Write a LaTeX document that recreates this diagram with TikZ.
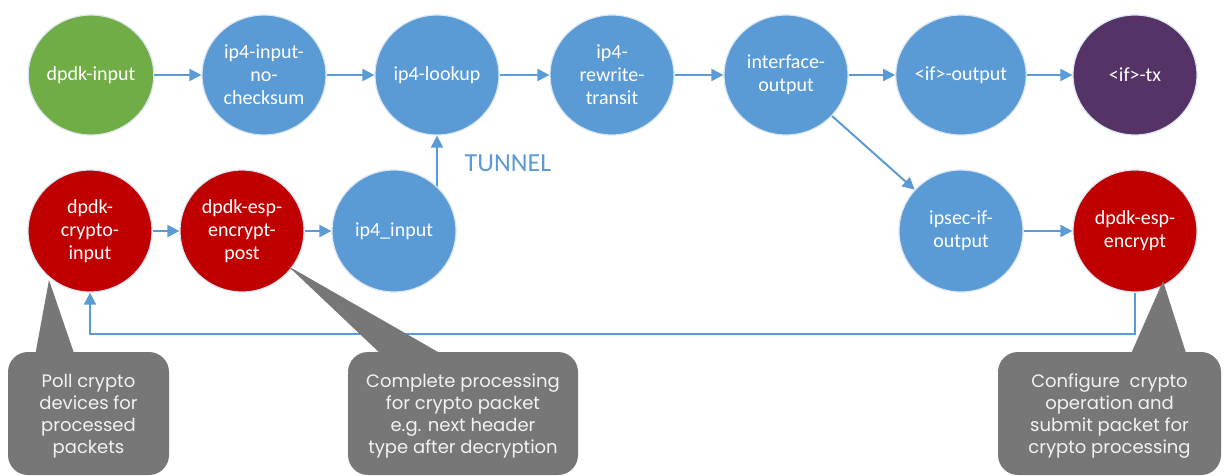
\documentclass[tikz,border=0pt]{standalone}
\usepackage{fontspec}
\setmainfont{Carlito}
\newfontfamily\notefont{Poppins}
\usetikzlibrary{shapes.geometric,arrows.meta,backgrounds}

\definecolor{nodeblue}{HTML}{5B9BD5}
\definecolor{nodegreen}{HTML}{70AD47}
\definecolor{nodered}{HTML}{C00000}
\definecolor{nodepurple}{HTML}{553366}
\definecolor{halo}{HTML}{DCE6F2}
\definecolor{linkblue}{HTML}{5B9BD5}
\definecolor{notegray}{HTML}{777777}
\definecolor{notetext}{HTML}{F2F2F2}

\tikzset{
  graphnode/.style={ellipse, fill=#1, draw=halo, line width=1.2pt,
    minimum width=124pt, minimum height=120pt, inner sep=0pt,
    text=white, align=center, font=\fontsize{20}{23}\selectfont},
  link/.style={draw=linkblue, line width=2pt,
    -{Triangle[length=12pt,width=12pt]}},
  notebox/.style={fill=notegray, rounded corners=20pt, inner sep=0pt},
  notelabel/.style={text=notetext, align=center,
    font=\notefont\fontsize{18}{22}\selectfont},
}

\begin{document}
\begin{tikzpicture}[x=1pt,y=-1pt]
  \useasboundingbox (0,0) rectangle (1225,476);

  % main forwarding path
  \node[graphnode=nodegreen]  (dpdkin)   at (91,75)   {dpdk-input};
  \node[graphnode=nodeblue]   (ipin)     at (264,75)  {ip4-input-\\no-\\checksum};
  \node[graphnode=nodeblue]   (lookup)   at (437,75)  {ip4-lookup};
  \node[graphnode=nodeblue]   (rewrite)  at (612,75)  {ip4-\\rewrite-\\transit};
  \node[graphnode=nodeblue]   (ifout)    at (786,75)  {interface-\\output};
  \node[graphnode=nodeblue]   (ifoutput) at (961,75)  {<if>-output};
  \node[graphnode=nodepurple] (iftx)     at (1135,75) {<if>-tx};

  % crypto path
  \node[graphnode=nodered, minimum height=122pt] (cryptoin) at (90,231)   {dpdk-\\crypto-\\input};
  \node[graphnode=nodered, minimum height=122pt] (encpost)  at (242,231)  {dpdk-esp-\\encrypt-\\post};
  \node[graphnode=nodeblue, minimum height=122pt] (ip4in)   at (394,231)  {ip4\_input};
  \node[graphnode=nodeblue, minimum height=122pt] (ipsecout) at (961,231) {ipsec-if-\\output};
  \node[graphnode=nodered, minimum height=122pt] (espenc)   at (1135,231) {dpdk-esp-\\encrypt};

  \node[text=linkblue, font=\fontsize{26}{26}\selectfont] (tunnel) at (508,163) {TUNNEL};

  % connectors
  \draw[link] (dpdkin) -- (ipin);
  \draw[link] (ipin) -- (lookup);
  \draw[link] (lookup) -- (rewrite);
  \draw[link] (rewrite) -- (ifout);
  \draw[link] (ifout) -- (ifoutput);
  \draw[link] (ifoutput) -- (iftx);
  \draw[link] (ifout) -- (ipsecout);
  \draw[link] (ipsecout) -- (espenc);
  \draw[link] (cryptoin) -- (encpost);
  \draw[link] (encpost) -- (ip4in);

  \coordinate (loopy) at (0,334);
  \begin{scope}[on background layer]
    \draw[link] (ip4in.center -| lookup.south) -- (lookup.south);
    \draw[link, line width=1.6pt] (espenc.south) -- (espenc.south |- loopy)
      -| (cryptoin.south);
  \end{scope}

  % callouts
  \node[notebox, minimum width=161pt, minimum height=123pt] (note1) at (88.5,413.5) {};
  \fill[notegray] (35,356) -- (49,280) -- (75,356) -- cycle;
  \node[notelabel] at (note1.center |- 0,416) {Poll crypto\\devices for\\processed\\packets};

  \node[notebox, minimum width=230pt, minimum height=123pt] (note2) at (463,413.5) {};
  \fill[notegray] (383,356) -- (288,266) -- (445,356) -- cycle;
  \node[notelabel] at (note2.center |- 0,416) {Complete processing\\for crypto packet\\e.g. next header\\type after decryption};

  \node[notebox, minimum width=223pt, minimum height=123pt] (note3) at (1109.5,413.5) {};
  \fill[notegray] (1130,356) -- (1163,281) -- (1187,356) -- cycle;
  \node[notelabel] at (note3.center |- 0,416) {Configure~ crypto\\operation and\\submit packet for\\crypto processing};
\end{tikzpicture}
\end{document}
